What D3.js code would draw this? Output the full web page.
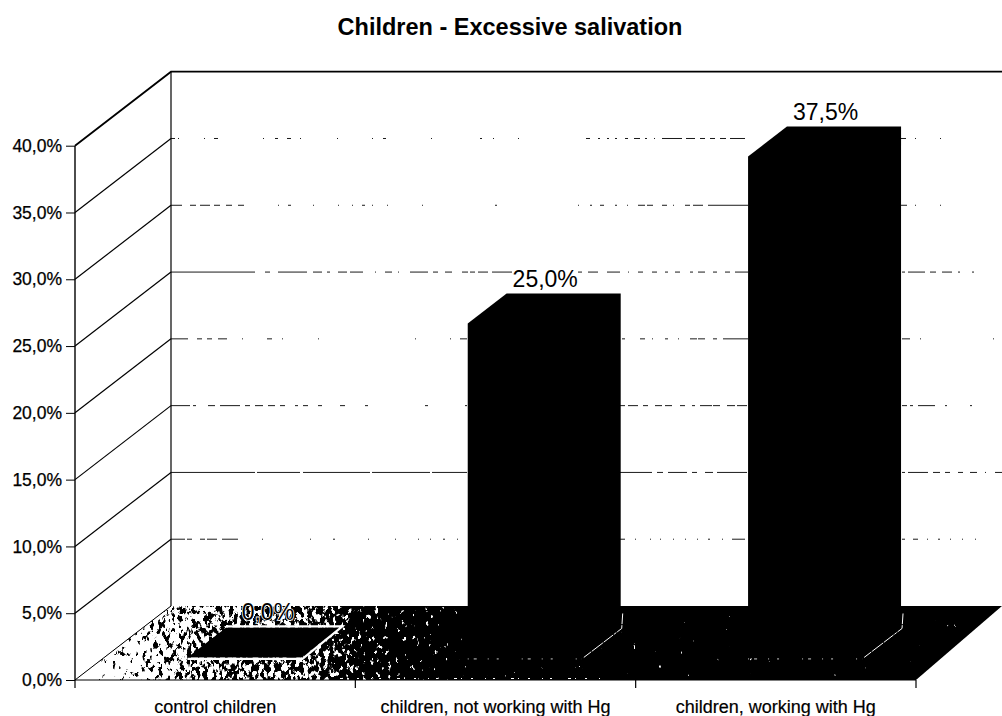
<!DOCTYPE html>
<html>
<head>
<meta charset="utf-8">
<script src="https://cdn.jsdelivr.net/npm/d3@7/dist/d3.min.js"></script>
<style>
html,body{margin:0;padding:0;background:#fff}
svg{display:block}
text{font-family:"Liberation Sans",Arial,sans-serif;fill:#000}
</style>
</head>
<body>
<svg id="chart" width="1002" height="716"></svg>
<script>
const chartTitle = "Children - Excessive salivation";
const categories = ["control children", "children, not working with Hg", "children, working with Hg"];
const values = [0, 25, 37.5];
const valueLabels = ["0,0%", "25,0%", "37,5%"];
const yTicks = [0, 5, 10, 15, 20, 25, 30, 35, 40];
const yTickLabels = ["0,0%", "5,0%", "10,0%", "15,0%", "20,0%", "25,0%", "30,0%", "35,0%", "40,0%"];

// Broken print of the back-wall gridlines: inked runs along each line (style only).
const gridInk = {
  5: [[171,185],[187,192],[200,205],[207,217],[222,238],[262,263],[310,311],[333,335],[368,369],[395,396],[418,419],[430,431],[443,445],[457,458],[620,625],[635,636],[650,651],[660,661],[673,674],[685,686],[697,698],[708,710],[722,723],[732,745],[902,905],[913,918],[927,928],[938,940],[950,951],[962,963],[975,976]],
  10: [[171,255],[257,300],[303,370],[372,430],[432,467],[620,652],[657,663],[668,687],[692,697],[705,713],[717,747],[902,905],[908,928],[933,940],[945,950],[958,963],[970,977],[985,986],[995,1002]],
  15: [[171,190],[193,196],[208,215],[220,240],[245,250],[255,263],[268,275],[280,285],[295,298],[303,308],[318,322],[340,345],[365,368],[425,428],[465,467],[620,625],[628,638],[643,648],[655,662],[665,672],[680,685],[692,695],[700,712],[713,720],[727,735],[737,747],[902,907],[910,913],[918,935],[945,947],[970,972]],
  20: [[171,188],[197,202],[207,212],[218,227],[242,243],[267,272],[282,283],[318,319],[415,416],[450,451],[460,467],[622,625],[640,645],[652,653],[665,668],[678,679],[690,697],[698,705],[713,717],[723,748],[902,910],[920,921],[993,994]],
  25: [[171,255],[265,270],[278,307],[313,322],[327,330],[338,347],[350,363],[375,376],[385,392],[398,399],[410,428],[433,438],[445,452],[462,468],[470,475],[478,488],[492,512],[578,582],[588,598],[607,620],[628,629],[638,643],[652,657],[665,668],[675,680],[690,693],[698,705],[713,717],[725,730],[735,748],[902,905],[908,925],[930,936],[942,952],[958,960],[972,974]],
  30: [[171,182],[190,196],[200,210],[214,220],[226,232],[238,244],[278,279],[288,291],[313,314],[338,339],[352,353],[362,365],[372,373],[387,388],[422,423],[495,497],[578,579],[590,592],[600,604],[615,617],[627,628],[638,645],[647,653],[662,667],[673,674],[685,690],[693,703],[708,748],[901,907],[915,916],[940,941]],
  35: [[171,175],[178,179],[204,205],[214,218],[263,264],[275,278],[287,291],[300,301],[337,338],[372,373],[383,386],[431,432],[480,482],[493,494],[518,519],[586,590],[598,600],[607,609],[615,617],[625,628],[634,640],[645,647],[654,655],[662,682],[686,695],[700,705],[710,715],[720,726],[730,745],[901,906],[915,916],[940,941]]
};

const svg = d3.select("#chart");
const W = 1002, H = 716;
const plotLeft = 75, plotRight = 916, y0 = 680, yTop = 145.7;
const depthX = 96, depthY = 74;
const backRight = 1002;
const barFront = 0.305, barDepth = 0.405;

const x = d3.scaleBand().domain(categories).range([plotLeft, plotRight]).paddingInner(0.593).paddingOuter(0.2965);
const xEdges = d3.scaleBand().domain(categories).range([plotLeft, plotRight]);
const y = d3.scaleLinear().domain([0, 40]).range([y0, yTop]);
const line = d3.line();

const defs = svg.append("defs");
const grad = defs.append("linearGradient").attr("id", "floorFade")
  .attr("gradientUnits", "userSpaceOnUse")
  .attr("x1", 90).attr("y1", 0).attr("x2", 500).attr("y2", 0);
[[0, 1], [0.15, 0.74], [0.3, 0.58], [0.55, 0.52], [0.66, 0.3], [0.85, 0.15], [1, 0]].forEach(([o, g]) => {
  const c = Math.round(g * 255);
  grad.append("stop").attr("offset", o).attr("stop-color", `rgb(${c},${c},${c})`);
});
const f = defs.append("filter").attr("id", "dither")
  .attr("filterUnits", "userSpaceOnUse").attr("x", 0).attr("y", 590).attr("width", W).attr("height", 100)
  .attr("color-interpolation-filters", "sRGB");
f.append("feTurbulence").attr("type", "fractalNoise").attr("baseFrequency", "0.24 0.14").attr("numOctaves", 4).attr("seed", 11).attr("result", "n0");
f.append("feColorMatrix").attr("in", "n0").attr("type", "matrix")
  .attr("values", "1 0 0 0 0 1 0 0 0 0 1 0 0 0 0 0 0 0 0 1").attr("result", "n");
f.append("feComposite").attr("in", "SourceGraphic").attr("in2", "n").attr("operator", "arithmetic")
  .attr("k1", 0).attr("k2", 1).attr("k3", 1.6).attr("k4", -0.88).attr("result", "mix");
const ct = f.append("feComponentTransfer").attr("in", "mix").attr("result", "hard");
["feFuncR", "feFuncG", "feFuncB"].forEach(fn => ct.append(fn).attr("type", "linear").attr("slope", 9).attr("intercept", -4));
f.append("feComposite").attr("in", "hard").attr("in2", "SourceAlpha").attr("operator", "in");

// Gridlines on the back wall
yTicks.filter(t => t > 0 && t < 40).forEach(t => {
  const yb = y(t) - depthY;
  const runs = gridInk[t];
  const dash = [];
  runs.forEach((r, i) => {
    dash.push(r[1] - r[0]);
    dash.push(i + 1 < runs.length ? runs[i + 1][0] - r[1] : 2000);
  });
  svg.append("line").attr("x1", plotLeft + depthX).attr("x2", backRight).attr("y1", yb).attr("y2", yb)
    .attr("stroke", "#1a1a1a").attr("stroke-width", 1).attr("stroke-dasharray", dash.join(" "));
  svg.append("line").attr("x1", plotLeft).attr("y1", y(t)).attr("x2", plotLeft + depthX).attr("y2", yb)
    .attr("stroke", "#000").attr("stroke-width", 1.2);
});

// Floor
svg.append("path")
  .attr("d", line([[plotLeft, y0], [plotLeft + depthX, y0 - depthY], [backRight, y0 - depthY], [plotRight, y0]]) + "Z")
  .attr("fill", "url(#floorFade)").attr("filter", "url(#dither)");
// Light flecks along the front edge of the floor
svg.append("line").attr("x1", 340).attr("x2", 600).attr("y1", y0 - 1.5).attr("y2", y0 - 1.5)
  .attr("stroke", "#fff").attr("stroke-width", 1).attr("stroke-dasharray", "3 4 1 9 2 12 1 7 2 16");

// Walls
svg.append("line").attr("x1", plotLeft + depthX).attr("x2", plotLeft + depthX).attr("y1", y(40) - depthY).attr("y2", y0 - depthY)
  .attr("stroke", "#000").attr("stroke-width", 1.2);
svg.append("path").attr("d", line([[plotLeft, y(40)], [plotLeft + depthX, y(40) - depthY], [backRight, y(40) - depthY]]))
  .attr("fill", "none").attr("stroke", "#000").attr("stroke-width", 1.8);
svg.append("line").attr("x1", plotLeft).attr("y1", y0).attr("x2", plotLeft + depthX).attr("y2", y0 - depthY)
  .attr("stroke", "#000").attr("stroke-width", 1);

// Bars
const geom = categories.map((c, i) => {
  const fx = x(c) + depthX * barFront, fy = d => y(d) - depthY * barFront;
  const w = x.bandwidth(), dx = depthX * barDepth, dy = depthY * barDepth, v = values[i];
  return { c, v, fx, w, dx, dy, base: fy(0), top: fy(v), label: valueLabels[i] };
});
const bars = svg.append("g").selectAll("g").data(geom).join("g");
bars.append("path")
  .attr("d", d => line([[d.fx, d.base], [d.fx, d.top], [d.fx + d.dx, d.top - d.dy], [d.fx + d.w + d.dx, d.top - d.dy], [d.fx + d.w + d.dx, d.base - d.dy], [d.fx + d.w, d.base]]) + "Z")
  .attr("fill", "#000");
// Light rim where the bar meets the floor
bars.append("path")
  .attr("d", d => d.v > 0
    ? line([[d.fx + d.w + 2, d.base], [d.fx + d.w + d.dx + 1, d.base - d.dy + 1], [d.fx + d.w + d.dx + 2, d.base - d.dy - 14]])
    : line([[d.fx + d.dx, d.base - d.dy - 1], [d.fx + d.w + d.dx + 2, d.base - d.dy - 1], [d.fx + d.w + 1, d.base + 1.5], [d.fx, d.base + 1.5]]))
  .attr("fill", "none").attr("stroke", "#fff")
  .attr("stroke-width", d => d.v > 0 ? 1 : 2.2)
  .attr("stroke-dasharray", d => d.v > 0 ? "9 1 14 1 12 1 3 1" : null);
bars.filter(d => d.v > 0).append("line")
  .attr("x1", d => d.fx).attr("x2", d => d.fx + d.w).attr("y1", d => d.base + 1.5).attr("y2", d => d.base + 1.5)
  .attr("stroke", "#fff").attr("stroke-width", 0.8).attr("stroke-dasharray", "1 5 3 11 1 8 2 23");
const labels = svg.append("g").selectAll("text").data(geom).join("text")
  .attr("x", d => d.fx + (d.w + d.dx) / 2 + (d.v > 0 ? 1 : 4))
  .attr("y", d => d.top - d.dy - 7)
  .attr("text-anchor", "middle").attr("font-size", 23)
  .style("paint-order", "stroke")
  .attr("stroke", d => d.v > 0 ? "none" : "#fff")
  .attr("stroke-width", d => d.v > 0 ? 0 : 1.6)
  .text(d => d.label);

// Axes
const yAxis = d3.axisLeft(y).tickValues(yTicks).tickSize(9).tickPadding(4)
  .tickFormat((d, i) => yTickLabels[i]);
const gy = svg.append("g").attr("transform", `translate(${plotLeft},0)`).call(yAxis);
gy.select(".domain").attr("stroke", "#000").attr("stroke-width", 1.4).attr("d", `M0,${y(40)}V${y0}`);
gy.selectAll("text").attr("font-size", 17.5).attr("font-family", null).attr("stroke", "#000").attr("stroke-width", 0.25);

const xAxis = d3.axisBottom(x).tickSize(0).tickPadding(20);
const gx = svg.append("g").attr("transform", `translate(0,${y0})`).call(xAxis);
gx.select(".domain").attr("stroke", "#000").attr("stroke-width", 1).attr("d", `M${plotLeft},0H${plotRight}`);
gx.selectAll("text").attr("font-size", 18).attr("font-family", null).attr("stroke", "#000").attr("stroke-width", 0.2);

svg.append("g").selectAll("line")
  .data(categories.map(c => xEdges(c)).concat([plotRight]))
  .join("line")
  .attr("x1", d => d).attr("x2", d => d).attr("y1", y0).attr("y2", y0 + 8)
  .attr("stroke", "#000").attr("stroke-width", 1.2);

// Title
svg.append("text").attr("x", 510).attr("y", 35).attr("text-anchor", "middle")
  .attr("font-size", 23.5).attr("font-weight", "bold").text(chartTitle);
</script>
</body>
</html>
